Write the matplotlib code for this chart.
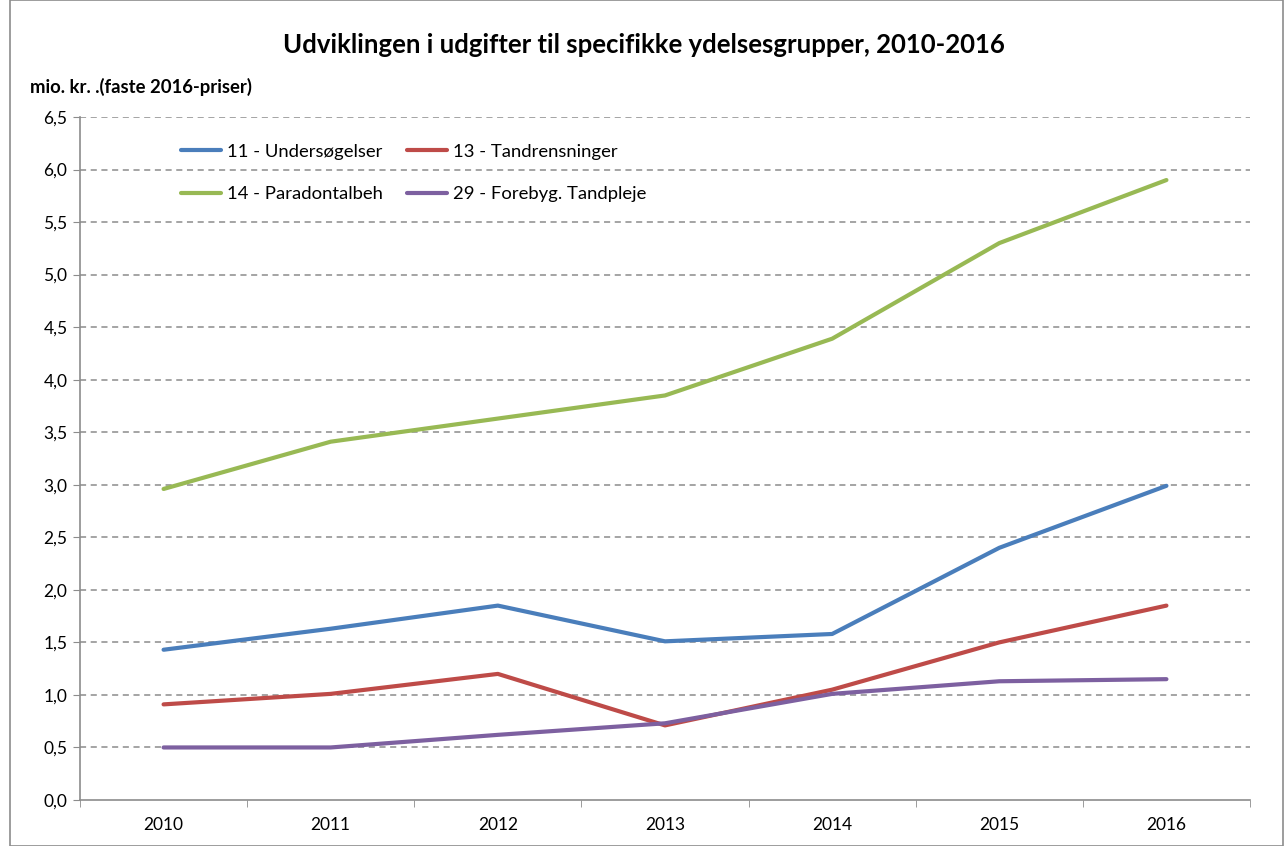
import matplotlib
matplotlib.use("Agg")
import matplotlib.pyplot as plt
from matplotlib.patches import Rectangle
import numpy as np

plt.rcParams['font.family'] = ['Lato', 'DejaVu Sans']

years = ["2010", "2011", "2012", "2013", "2014", "2015", "2016"]
series_names = ["11 - Undersøgelser", "13 - Tandrensninger", "14 - Paradontalbeh", "29 - Forebyg. Tandpleje"]
undersoegelser = [1.43, 1.63, 1.85, 1.51, 1.58, 2.40, 2.99]
tandrensninger = [0.91, 1.01, 1.20, 0.71, 1.05, 1.50, 1.85]
paradontalbeh = [2.96, 3.41, 3.63, 3.85, 4.39, 5.30, 5.90]
forebyg = [0.50, 0.50, 0.62, 0.73, 1.01, 1.13, 1.15]
colors = ["#4A7EBB", "#BE4B48", "#98B954", "#7D60A0"]
yticks = [0.0, 0.5, 1.0, 1.5, 2.0, 2.5, 3.0, 3.5, 4.0, 4.5, 5.0, 5.5, 6.0, 6.5]

W, H = 1288, 846
fig = plt.figure(figsize=(W/100, H/100), dpi=100)
fig.patches.append(Rectangle((10/W, 0), (1283-10)/W, 1, transform=fig.transFigure,
                             fill=False, edgecolor="#8c8c8c", linewidth=1.2))

ax = fig.add_axes([80/W, (H-800)/H, (1250-80)/W, (800-117)/H])
x = np.arange(len(years))
data = [undersoegelser, tandrensninger, paradontalbeh, forebyg]
lines = []
for vals, c, name in zip(data, colors, series_names):
    l, = ax.plot(x, vals, color=c, linewidth=3.0, label=name, solid_capstyle='round', zorder=3)
    lines.append(l)

ax.set_xlim(-0.5, len(years) - 0.5)
ax.set_ylim(0, 6.5)
ax.set_yticks(yticks)
ax.set_yticklabels([f"{v:.1f}".replace(".", ",") for v in yticks], fontsize=12.5)
ax.set_xticks(x)
ax.set_xticklabels(years, fontsize=12.5)
ax.set_xticks(np.arange(-0.5, len(years), 1.0), minor=True)
ax.tick_params(axis='x', which='major', length=0, pad=12)
ax.tick_params(axis='x', which='minor', length=5, color="#8c8c8c")
ax.tick_params(axis='y', length=5, color="#8c8c8c", pad=4)
for t in yticks[1:]:
    ax.axhline(t, color="#8c8c8c", linestyle=(0, (4, 3)), linewidth=1.1, zorder=1)
for s in ["top", "right"]:
    ax.spines[s].set_visible(False)
for s in ["left", "bottom"]:
    ax.spines[s].set_color("#8c8c8c")
    ax.spines[s].set_linewidth(1.2)

fig.text(0.5, (H-45)/H, "Udviklingen i udgifter til specifikke ydelsesgrupper, 2010-2016",
         ha="center", va="center", fontsize=18.5, fontweight="bold")
fig.text(30/W, (H-87)/H, "mio. kr. .(faste 2016-priser)", ha="left", va="center",
         fontsize=13.3, fontweight="bold")

order = [0, 2, 1, 3]
leg = ax.legend([lines[i] for i in order], [series_names[i] for i in order], ncol=2,
                loc="upper left", bbox_to_anchor=(164/W, (H-127)/H), bbox_transform=fig.transFigure,
                frameon=False, fontsize=13.3, handlelength=2.2, handletextpad=0.3,
                columnspacing=1.3, labelspacing=1.45)

fig.savefig("out.png", dpi=100)
